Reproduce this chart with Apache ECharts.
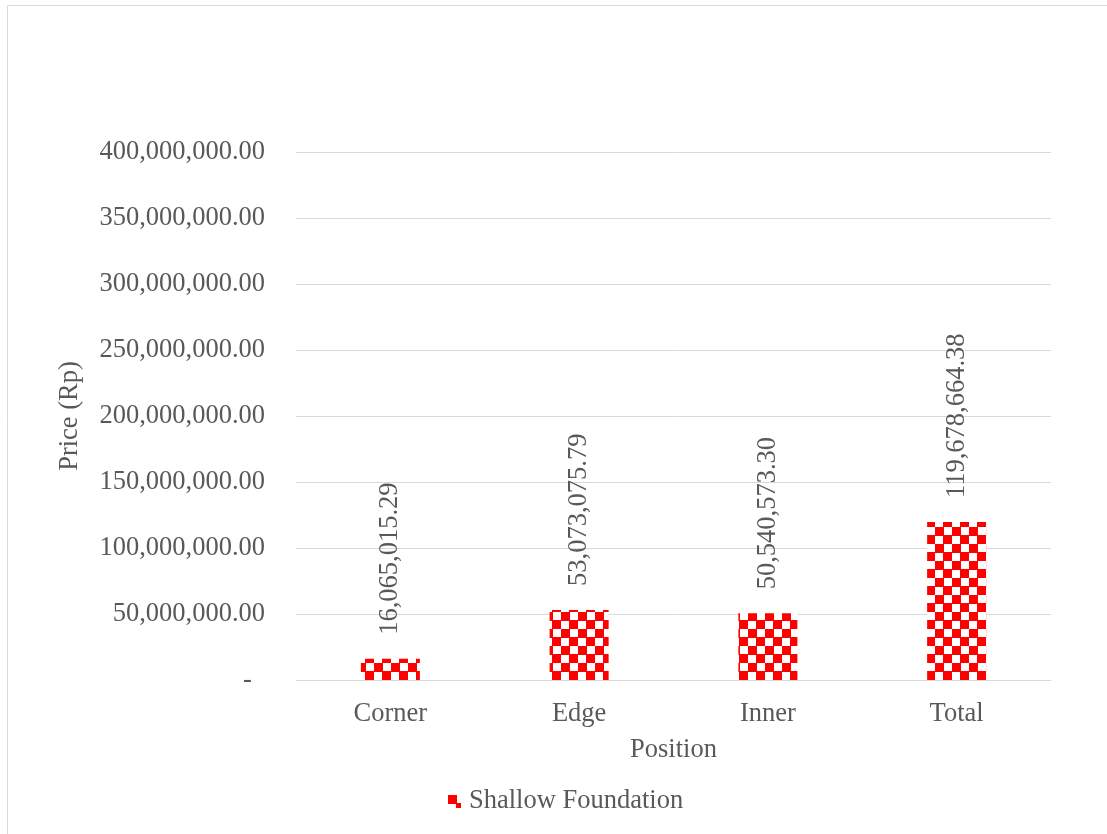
<!DOCTYPE html>
<html>
<head>
<meta charset="utf-8">
<script src="https://cdn.jsdelivr.net/npm/echarts@6/dist/echarts.min.js"></script>
<style>
html,body{margin:0;padding:0;background:#fff;}
#chart{width:1107px;height:834px;}
</style>
</head>
<body>
<div id="chart"></div>
<script>
const categories = ['Corner', 'Edge', 'Inner', 'Total'];
const values = [16065015.29, 53073075.79, 50540573.30, 119678664.38];
const seriesName = 'Shallow Foundation';
const xAxisTitle = 'Position';
const yAxisTitle = 'Price (Rp)';

function makePattern() {
  const c = document.createElement('canvas');
  c.width = 17; c.height = 17;
  const ctx = c.getContext('2d');
  ctx.fillStyle = '#ffffff';
  ctx.fillRect(0, 0, 17, 17);
  ctx.fillStyle = '#ff0000';
  ctx.fillRect(0, 0, 9, 9);
  ctx.fillRect(8, 8, 9, 9);
  return c;
}
const pattern = { image: makePattern(), repeat: 'repeat' };

const fmt = v => v.toLocaleString('en-US', { minimumFractionDigits: 2, maximumFractionDigits: 2 });
const FONT = 'Liberation Serif, Times New Roman, serif';
const TXT = '#595959';
const FS = 26.5;

const chart = echarts.init(document.getElementById('chart'), null, { renderer: 'canvas' });
chart.setOption({
  backgroundColor: '#ffffff',
  animation: false,
  textStyle: { fontFamily: FONT },
  graphic: [{
    type: 'rect',
    shape: { x: 7.5, y: 5.5, width: 1120, height: 850 },
    style: { fill: 'none', stroke: '#d9d9d9', lineWidth: 1 },
    silent: true
  }],
  grid: { left: 296, right: 56, top: 152, bottom: 154, containLabel: false },
  legend: {
    data: [seriesName],
    left: 443,
    top: 783,
    itemWidth: 13,
    itemHeight: 13,
    icon: 'rect',
    textStyle: { fontFamily: FONT, fontSize: FS, color: TXT, padding: [0, 0, 0, 3] }
  },
  xAxis: {
    type: 'category',
    data: categories,
    name: xAxisTitle,
    nameLocation: 'middle',
    nameGap: 57,
    nameTextStyle: { fontFamily: FONT, fontSize: FS, color: TXT },
    axisLine: { lineStyle: { color: '#d9d9d9', width: 1 } },
    axisTick: { show: false },
    axisLabel: { fontFamily: FONT, fontSize: FS, color: TXT, margin: 21 }
  },
  yAxis: {
    type: 'value',
    min: 0,
    max: 400000000,
    interval: 50000000,
    name: yAxisTitle,
    nameLocation: 'middle',
    nameGap: 212,
    nameTextStyle: { fontFamily: FONT, fontSize: FS, color: TXT },
    axisLine: { show: false },
    axisTick: { show: false },
    splitLine: { lineStyle: { color: '#d9d9d9', width: 1 } },
    axisLabel: {
      fontFamily: FONT, fontSize: FS, color: TXT, margin: 31,
      formatter: v => v === 0 ? '-  ' : fmt(v)
    }
  },
  series: [{
    name: seriesName,
    type: 'bar',
    data: values,
    barWidth: 59,
    itemStyle: { color: pattern },
    label: {
      show: true,
      position: 'top',
      distance: 24,
      rotate: 90,
      align: 'left',
      verticalAlign: 'middle',
      fontFamily: FONT,
      fontSize: FS,
      color: TXT,
      formatter: p => fmt(p.value)
    }
  }]
});
</script>
</body>
</html>
